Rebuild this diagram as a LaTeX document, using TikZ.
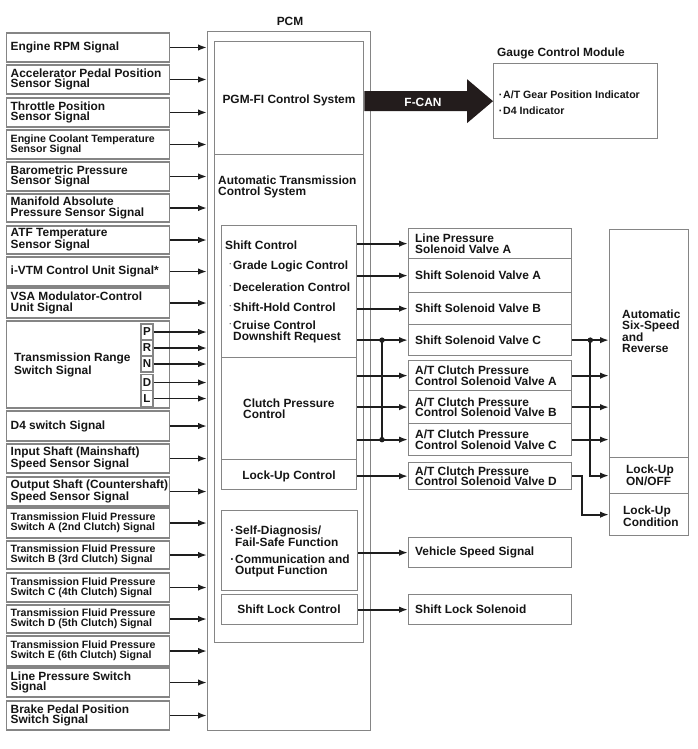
\documentclass[tikz,border=0pt]{standalone}
\usepackage{fontspec}
\setmainfont{Liberation Sans}
\usetikzlibrary{arrows.meta,calc}
\definecolor{bordc}{HTML}{858585}
\definecolor{arrc}{HTML}{1E1E1E}
\definecolor{txtc}{HTML}{151515}
\definecolor{fcanc}{HTML}{231C1C}
\newcommand\mfont{\fontsize{11.9}{10.8}\selectfont\bfseries}
\newcommand\sfnt{\fontsize{10.6}{10}\selectfont\bfseries}
\newcommand\hibul{\makebox[0pt][r]{\raisebox{3pt}{\fontsize{7}{7}\selectfont\textperiodcentered}\hspace{1.5pt}}}
\newcommand\midbul{\makebox[0pt][r]{\textperiodcentered\hspace{0.8pt}}}
\newcommand\lb[5]{\node[lbox,minimum height=#3pt] (#1) at (6,#2) {};
  \node[tx,font=#4] (#1t) at ($(#1.west)+(4.5,0)$) {#5};}
\newcommand\larr[1]{\draw[sig] (#1.east) -- (#1.east -| pcm.west);}
\newcommand\vb[4]{\node[bx,minimum width=163pt,minimum height=#3pt] (#1) at (408,#2) {};
  \node[tx] (#1t) at ($(#1.west)+(7,0)$) {#4};}
\begin{document}
\begin{tikzpicture}[x=1pt,y=-1pt,
 bx/.style={draw=bordc,line width=1.3pt,rectangle,inner sep=0pt,anchor=north west},
 lbox/.style={bx,anchor=west,minimum width=163pt},
 tx/.style={text=txtc,inner sep=0pt,align=left,anchor=west,font=\mfont},
 sig/.style={draw=arrc,line width=1.8pt,-{Latex[length=9pt,width=6.5pt]}},
 ln/.style={draw=arrc,line width=1.8pt},
 letb/.style={bx,anchor=center,minimum width=12pt,minimum height=16pt,font=\fontsize{11.5}{11}\selectfont\bfseries,text=txtc},
 jdot/.style={fill=arrc,circle,inner sep=0pt,minimum size=5.5pt}
]
\useasboundingbox (0,0) rectangle (698,749);

% PCM
\node[bx,minimum width=163pt,minimum height=699pt] (pcm) at (207,31) {};
\node[tx,anchor=center] (pcml) at (290,21) {PCM};
\node[bx,minimum width=149pt,minimum height=113pt] (pgm) at (214,41) {};
\node[tx,anchor=center] (pgmt) at (289,100) {PGM-FI Control System};
\node[bx,minimum width=149pt,minimum height=488pt] (atcs) at (214,154) {};
\node[tx] (atcst) at (218,187) {Automatic Transmission\\Control System};
\node[bx,minimum width=135pt,minimum height=132pt] (shc) at (221,225) {};
\node[tx] (shct) at (225,245) {Shift Control};
\node[tx] (glc) at (233,266) {\hibul Grade Logic Control};
\node[tx] (dcc) at (233,287) {\hibul Deceleration Control};
\node[tx] (shh) at (233,307) {\hibul Shift-Hold Control};
\node[tx] (ccd) at (233,332) {\hibul Cruise Control\\Downshift Request};
\node[bx,minimum width=135pt,minimum height=102pt] (cpc) at (221,357) {};
\node[tx] (cpct) at (243,409) {Clutch Pressure\\Control};
\node[bx,minimum width=135pt,minimum height=30pt] (luc) at (221,459) {};
\node[tx,anchor=center] (luct) at (289,476) {Lock-Up Control};
\node[bx,minimum width=136pt,minimum height=80pt] (sdf) at (221,510) {};
\node[tx] (sdft) at (235,536) {\midbul Self-Diagnosis/\\Fail-Safe Function};
\node[tx] (cof) at (235,566) {\midbul Communication and\\Output Function};
\node[bx,minimum width=136pt,minimum height=30pt] (slc) at (221,594) {};
\node[tx,anchor=center] (slct) at (289,609) {Shift Lock Control};

% inputs
\lb{l1}{47.5}{29}{\mfont}{Engine RPM Signal}
\lb{l2}{79.5}{29}{\mfont}{Accelerator Pedal Position\\Sensor Signal}
\lb{l3}{112.5}{29}{\mfont}{Throttle Position\\Sensor Signal}
\lb{l4}{144.5}{29}{\sfnt}{Engine Coolant Temperature\\Sensor Signal}
\lb{l5}{176.5}{29}{\mfont}{Barometric Pressure\\Sensor Signal}
\lb{l6}{208}{28}{\mfont}{Manifold Absolute\\Pressure Sensor Signal}
\lb{l7}{240}{28}{\mfont}{ATF Temperature\\Sensor Signal}
\lb{l8}{271.5}{29}{\mfont}{i-VTM Control Unit Signal*}
\lb{l9}{303}{30}{\mfont}{VSA Modulator-Control\\Unit Signal}
\node[lbox,minimum height=87pt] (l10) at (6,364.5) {};
\node[tx] (l10t) at (14,365) {Transmission Range\\Switch Signal};
\lb{l11}{426}{30}{\mfont}{D4 switch Signal}
\lb{l12}{458.5}{29}{\mfont}{Input Shaft (Mainshaft)\\Speed Sensor Signal}
\lb{l13}{491.5}{29}{\mfont}{Output Shaft (Countershaft)\\Speed Sensor Signal}
\lb{l14}{523}{30}{\sfnt}{Transmission Fluid Pressure\\Switch A (2nd Clutch) Signal}
\lb{l15}{555}{28}{\sfnt}{Transmission Fluid Pressure\\Switch B (3rd Clutch) Signal}
\lb{l16}{587.5}{29}{\sfnt}{Transmission Fluid Pressure\\Switch C (4th Clutch) Signal}
\lb{l17}{619}{28}{\sfnt}{Transmission Fluid Pressure\\Switch D (5th Clutch) Signal}
\lb{l18}{651}{30}{\sfnt}{Transmission Fluid Pressure\\Switch E (6th Clutch) Signal}
\lb{l19}{682.5}{29}{\mfont}{Line Pressure Switch\\Signal}
\lb{l20}{715.5}{29}{\mfont}{Brake Pedal Position\\Switch Signal}

\node[letb] (rp) at (147,332) {P};
\node[letb] (rr) at (147,348) {R};
\node[letb] (rn) at (147,364) {N};
\node[letb] (rd) at (147,382.5) {D};
\node[letb] (rl) at (147,398.5) {L};

\foreach \n in {l1,l2,l3,l4,l5,l6,l7,l8,l9,l11,l12,l13,l14,l15,l16,l17,l18,l19,l20,rp,rr,rn,rd,rl}{\larr{\n}}

% gauge
\node[tx] (gcmt) at (497,53) {Gauge Control Module};
\node[bx,minimum width=164pt,minimum height=75pt] (gcm) at (493,63) {};
\node[tx,font=\sfnt] (gi1) at (503,95) {\midbul A/T Gear Position Indicator};
\node[tx,font=\sfnt] (gi2) at (503,111) {\midbul D4 Indicator};
\coordinate (fs) at (pgm.east |- gcm.west);
\fill[fcanc] ($(fs)+(0,-10)$) -- ($(gcm.west)+(-26,-10)$) -- ($(gcm.west)+(-26,-22)$) -- (gcm.west)
  -- ($(gcm.west)+(-26,22)$) -- ($(gcm.west)+(-26,10)$) -- ($(fs)+(0,10)$) -- cycle;
\node[tx,anchor=center,text=white] (fcan) at (423,102) {F-CAN};

% valves
\vb{lpv}{228}{30}{Line Pressure\\Solenoid Valve A}
\vb{ssa}{258}{34}{Shift Solenoid Valve A}
\vb{ssb}{292}{32}{Shift Solenoid Valve B}
\vb{ssc}{324}{31}{Shift Solenoid Valve C}
\vb{cpa}{360}{30}{A/T Clutch Pressure\\Control Solenoid Valve A}
\vb{cpb}{390}{33}{A/T Clutch Pressure\\Control Solenoid Valve B}
\vb{cpcv}{423}{32}{A/T Clutch Pressure\\Control Solenoid Valve C}
\vb{cpd}{462}{27}{A/T Clutch Pressure\\Control Solenoid Valve D}
\vb{vss}{537}{30}{Vehicle Speed Signal}
\vb{sls}{594}{30}{Shift Lock Solenoid}

% transmission
\node[bx,minimum width=79pt,minimum height=228pt] (aut) at (609,229) {};
\node[tx] (autt) at (622,331) {Automatic\\Six-Speed\\and\\Reverse};
\node[bx,minimum width=79pt,minimum height=36pt] (onf) at (609,457) {};
\node[tx] (onft) at (626,475) {Lock-Up\\ON/OFF};
\node[bx,minimum width=79pt,minimum height=42pt] (cnd) at (609,493) {};
\node[tx] (cndt) at (623,516) {Lock-Up\\Condition};

% connectors PCM -> valves
\draw[sig] (lpv.west -| shc.east) -- (lpv.west);
\draw[sig] (ssa.west -| shc.east) -- (ssa.west);
\draw[sig] (ssb.west -| shc.east) -- (ssb.west);
\draw[sig] (ssc.west -| shc.east) -- (ssc.west);
\draw[sig] (cpa.west -| cpc.east) -- (cpa.west);
\draw[sig] (cpb.west -| cpc.east) -- (cpb.west);
\draw[sig] (cpcv.west -| cpc.east) -- (cpcv.west);
\draw[sig] (cpd.west -| luc.east) -- (cpd.west);
\coordinate (j1) at ($(ssc.west)+(-26,0)$);
\coordinate (j2) at ($(cpcv.west)+(-26,0)$);
\draw[ln] (j1) -- (j2);
\node[jdot] (d1) at (j1) {};
\node[jdot] (d2) at (j2) {};
\draw[sig] (vss.west -| sdf.east) -- (vss.west);
\draw[sig] (sls.west -| slc.east) -- (sls.west);

% valves -> transmission
\draw[sig] (ssc.east) -- (ssc.east -| aut.west);
\coordinate (j3) at ($(ssc.east)+(18,0)$);
\draw[sig] (j3) |- (onf.west);
\node[jdot] (d3) at (j3) {};
\draw[sig] (cpa.east) -- (cpa.east -| aut.west);
\draw[sig] (cpb.east) -- (cpb.east -| aut.west);
\draw[sig] (cpcv.east) -- (cpcv.east -| aut.west);
\draw[sig] (cpd.east) -- ++(10,0) |- (cnd.west);
\end{tikzpicture}
\end{document}
